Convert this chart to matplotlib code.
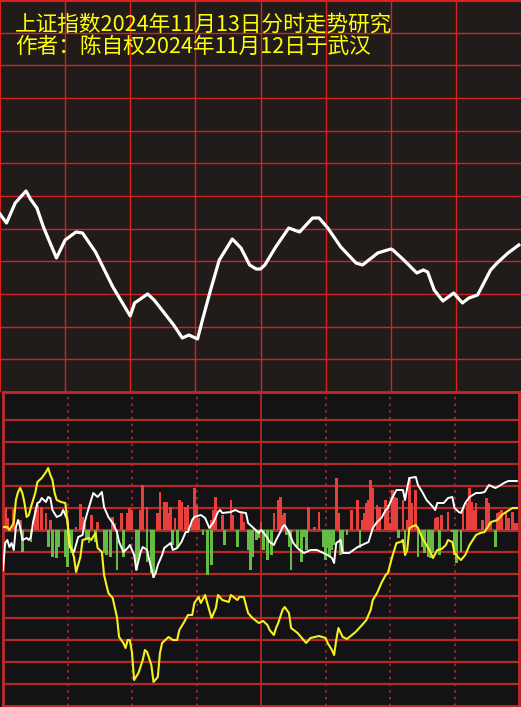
import matplotlib.pyplot as plt

# 上证指数分时图 + 下方指标图（数据为从原图读出的近似值）

# 上图：分时走势（分钟序号, 相对高度）
top_t = [0, 3, 7, 12, 14, 17, 20, 26, 30, 35, 38, 44, 52, 60, 62, 68, 71, 80, 84, 87,
         91, 93, 97, 101, 107, 111, 115, 118, 120, 122, 127, 133, 138, 144, 147, 151,
         157, 164, 167, 174, 180, 181, 186, 192, 195, 197, 200, 204, 209, 213, 216,
         220, 226, 229, 234, 239]
top_v = [178, 169, 189, 201, 193, 184, 165, 134, 152, 160, 159, 140, 105, 76, 89, 98,
         92, 67, 54, 57, 53, 70, 102, 132, 153, 144, 127, 123, 123, 127, 145, 164, 160,
         174, 174, 164, 145, 129, 127, 139, 143, 142, 132, 119, 122, 120, 102, 91, 99,
         89, 94, 97, 122, 129, 139, 147]

# 下图：白线
white_t = [0, 1, 2, 3, 4, 5, 6, 7, 8, 9, 11, 12, 13, 14, 16, 17, 18, 20, 21, 22, 23,
           25, 27, 28, 30, 31, 33, 35, 37, 38, 40, 42, 44, 46, 47, 49, 51, 53, 54, 56,
           58, 59, 61, 62, 64, 65, 67, 68, 70, 71, 72, 74, 75, 78, 79, 81, 83, 85, 86,
           88, 89, 92, 94, 96, 98, 100, 101, 102, 106, 108, 110, 113, 114, 116, 119,
           120, 121, 123, 124, 126, 127, 129, 130, 131, 133, 135, 137, 138, 140, 143,
           146, 148, 151, 153, 154, 155, 157, 158, 161, 165, 167, 170, 172, 174, 176,
           178, 179, 181, 183, 186, 187, 188, 189, 192, 193, 195, 197, 200, 201, 202,
           205, 207, 209, 210, 212, 213, 215, 217, 220, 222, 224, 226, 229, 230, 233,
           235, 239]
white_v = [-40, -13, -10, -17, -13, -20, 3, 10, 3, -10, -8, -10, -7, 8, 27, 28, 32, 28,
           33, 32, 20, 13, 15, 20, 10, -17, -22, -7, -5, 8, 23, 37, 33, 38, 23, 13, 7,
           -2, -12, -22, -18, -15, -25, -40, -22, -17, -20, -30, -47, -43, -35, -25,
           -18, -13, -20, -18, -12, -2, -2, 10, 13, 15, 12, 2, 8, 18, 20, 17, 18, 20,
           18, 17, 7, 3, -3, 0, -2, -8, -12, -15, -10, -2, 3, 5, -2, -13, -18, -20, -23,
           -20, -20, -22, -25, -28, -33, -13, -10, -23, -23, -17, -15, -12, 2, 8, 12,
           20, 22, 32, 40, 40, 30, 42, 52, 53, 45, 38, 30, 23, 20, 27, 27, 32, 33, 22,
           18, 17, 27, 33, 37, 37, 38, 45, 42, 43, 47, 49, 49]

# 下图：黄线
yellow_t = [0, 2, 3, 5, 6, 7, 8, 9, 10, 11, 12, 13, 15, 16, 18, 20, 21, 22, 23, 24, 25,
            27, 29, 30, 31, 33, 34, 36, 37, 40, 41, 43, 44, 46, 47, 49, 51, 53, 54, 56,
            57, 58, 59, 60, 61, 63, 65, 66, 67, 69, 70, 72, 73, 74, 77, 79, 81, 82, 84,
            86, 88, 89, 91, 92, 94, 95, 97, 99, 100, 102, 105, 106, 109, 110, 112, 114,
            116, 119, 121, 123, 124, 126, 127, 128, 130, 131, 133, 134, 137, 139, 141,
            143, 145, 147, 150, 151, 153, 154, 155, 156, 158, 160, 164, 167, 169, 171,
            172, 174, 176, 178, 179, 181, 183, 185, 186, 187, 188, 189, 192, 193, 195,
            197, 199, 200, 202, 204, 206, 207, 209, 210, 212, 213, 215, 217, 220, 222,
            224, 226, 227, 230, 232, 234, 237, 239]
yellow_v = [3, 3, 0, 7, 30, 38, 42, 37, 27, 13, 15, 23, 37, 48, 52, 58, 62, 55, 50, 37,
            30, 28, 27, 7, -13, -27, -42, -27, -10, -8, -10, -3, -18, -22, -45, -63, -68,
            -87, -107, -113, -118, -110, -110, -123, -150, -143, -130, -120, -122, -135,
            -152, -147, -123, -113, -107, -110, -110, -100, -93, -85, -85, -73, -67, -73,
            -65, -73, -88, -78, -65, -70, -72, -65, -70, -67, -67, -83, -88, -93, -91,
            -95, -100, -105, -98, -93, -80, -77, -83, -98, -103, -108, -113, -108, -107,
            -106, -108, -113, -120, -125, -110, -98, -107, -109, -102, -95, -90, -80, -70,
            -63, -53, -45, -43, -27, -13, -12, -10, -25, -20, 2, 5, 2, -8, -15, -23, -28,
            -20, -19, -15, -10, -12, -23, -28, -30, -25, -15, -5, -3, -2, 5, 8, 10, 15,
            18, 22, 22]

# 下图：红柱（正）与绿柱（负）
red_t = [1, 2, 5, 8, 15, 16, 18, 20, 22, 34, 36, 37, 38, 41, 44, 51, 52, 55, 58, 59,
         60, 64, 65, 67, 72, 73, 75, 76, 77, 78, 80, 82, 83, 85, 86, 88, 89, 90, 91, 97,
         98, 99, 102, 106, 107, 111, 112, 120, 126, 128, 129, 130, 131, 142, 145, 147,
         155, 156, 162, 165, 167, 168, 169, 170, 171, 172, 174, 175, 178, 179, 180, 181,
         182, 183, 186, 188, 189, 190, 192, 201, 202, 204, 207, 214, 216, 217, 218, 219,
         220, 223, 225, 226, 227, 230, 231, 232, 234, 235, 237, 238, 239]
red_v = [22, 12, 21, 10, 20, 25, 23, 17, 10, 3, 26, 13, 7, 15, 8, 13, 7, 17, 17, 22, 20,
         20, 45, 23, 17, 38, 28, 28, 17, 23, 12, 30, 28, 23, 25, 8, 42, 25, 12, 10, 20,
         33, 15, 30, 15, 17, 8, 8, 17, 30, 33, 15, 17, 23, 3, 18, 52, 17, 20, 30, 10, 17,
         27, 30, 50, 42, 25, 23, 30, 25, 7, 40, 33, 32, 30, 10, 53, 27, 40, 12, 13, 15,
         18, 23, 27, 42, 28, 20, 27, 10, 32, 27, 8, 17, 18, 20, 17, 12, 18, 7, 7]
green_t = [9, 13, 21, 23, 25, 26, 29, 30, 32, 39, 40, 43, 47, 48, 50, 53, 56, 62, 63, 67,
           69, 70, 79, 81, 93, 95, 97, 103, 109, 114, 115, 116, 118, 119, 121, 123, 125,
           132, 133, 134, 137, 139, 140, 141, 149, 150, 151, 152, 153, 154, 157, 158,
           160, 166, 184, 187, 193, 195, 196, 198, 199, 200, 203, 209, 210, 211, 213,
           229]
green_v = [-22, -12, -17, -27, -28, -17, -27, -37, -23, -10, -13, -12, -23, -25, -27,
           -40, -27, -40, -27, -32, -43, -48, -15, -17, -5, -45, -35, -15, -17, -20, -40,
           -27, -10, -8, -20, -30, -25, -5, -17, -40, -17, -32, -7, -20, -17, -30, -18,
           -27, -20, -15, -25, -23, -5, -18, -8, -20, -27, -17, -23, -27, -28, -23, -25,
           -2, -25, -33, -22, -17]

W, H = 521, 707
fig = plt.figure(figsize=(W / 100, H / 100), dpi=100)
fig.patch.set_facecolor('#131316')


def px_axes(x0, y0, x1, y1):
    return fig.add_axes([x0 / W, 1 - y1 / H, (x1 - x0) / W, (y1 - y0) / H])


# ---- 上图 ----
top = px_axes(0, 0, 521, 392)
top.set_facecolor('#211b1a')
top.set_xlim(0, 240)
top.set_ylim(0, 392)
for t in range(30, 240, 30):
    top.axvline(t, color='#dc2020', lw=1)
for k in range(1, 12):
    top.axhline(k * 392 / 12, color='#d42222', lw=1)
top.plot(top_t, top_v, color='white', lw=2.3, solid_joinstyle='round', zorder=5)
for s in top.spines.values():
    s.set_visible(False)
top.axvline(0.1, color='#dc2020', lw=1.5)
top.axhline(391.5, color='#dc2020', lw=1.5)
top.set_xticks([])
top.set_yticks([])

# ---- 下图 ----
bot = px_axes(3, 392, 519, 706)
bot.set_facecolor('#131316')
bot.set_xlim(0, 240)
bot.set_ylim(-176, 138)
grid_c = '#b52828'
for k in range(-7, 6):
    bot.axhline(k * 22, color=grid_c, lw=2.2 if k == 0 else 1.6, zorder=1)
for t in [30, 60, 90, 150, 180, 210]:
    bot.axvline(t, color=grid_c, lw=1.2, ls=(0, (1.5, 2.5)), zorder=1)
bot.axvline(120, color=grid_c, lw=1.3, zorder=1)

bot.bar(red_t, red_v, width=1.3, color='#e8403c', zorder=2)
bot.bar(green_t, green_v, width=1.3, color='#66bb44', zorder=2)
bot.plot(white_t, white_v, color='white', lw=1.4, zorder=4)
bot.plot(yellow_t, yellow_v, color='#f5f020', lw=1.5, zorder=4)

for s in bot.spines.values():
    s.set_color('#c02a2a')
    s.set_linewidth(2)
bot.set_xticks([])
bot.set_yticks([])

# ---- 标题 ----
font = ['Noto Sans CJK SC', 'DejaVu Sans']
fig.text(15 / W, 1 - 14 / H, '上证指数2024年11月13日分时走势研究',
         color='#ffff00', fontsize=15.6, va='top', ha='left', family=font)
fig.text(15 / W, 1 - 36 / H, '作者：陈自权2024年11月12日于武汉',
         color='#ffff00', fontsize=15.6, va='top', ha='left', family=font)

fig.savefig('out.png', dpi=100, facecolor=fig.get_facecolor())
